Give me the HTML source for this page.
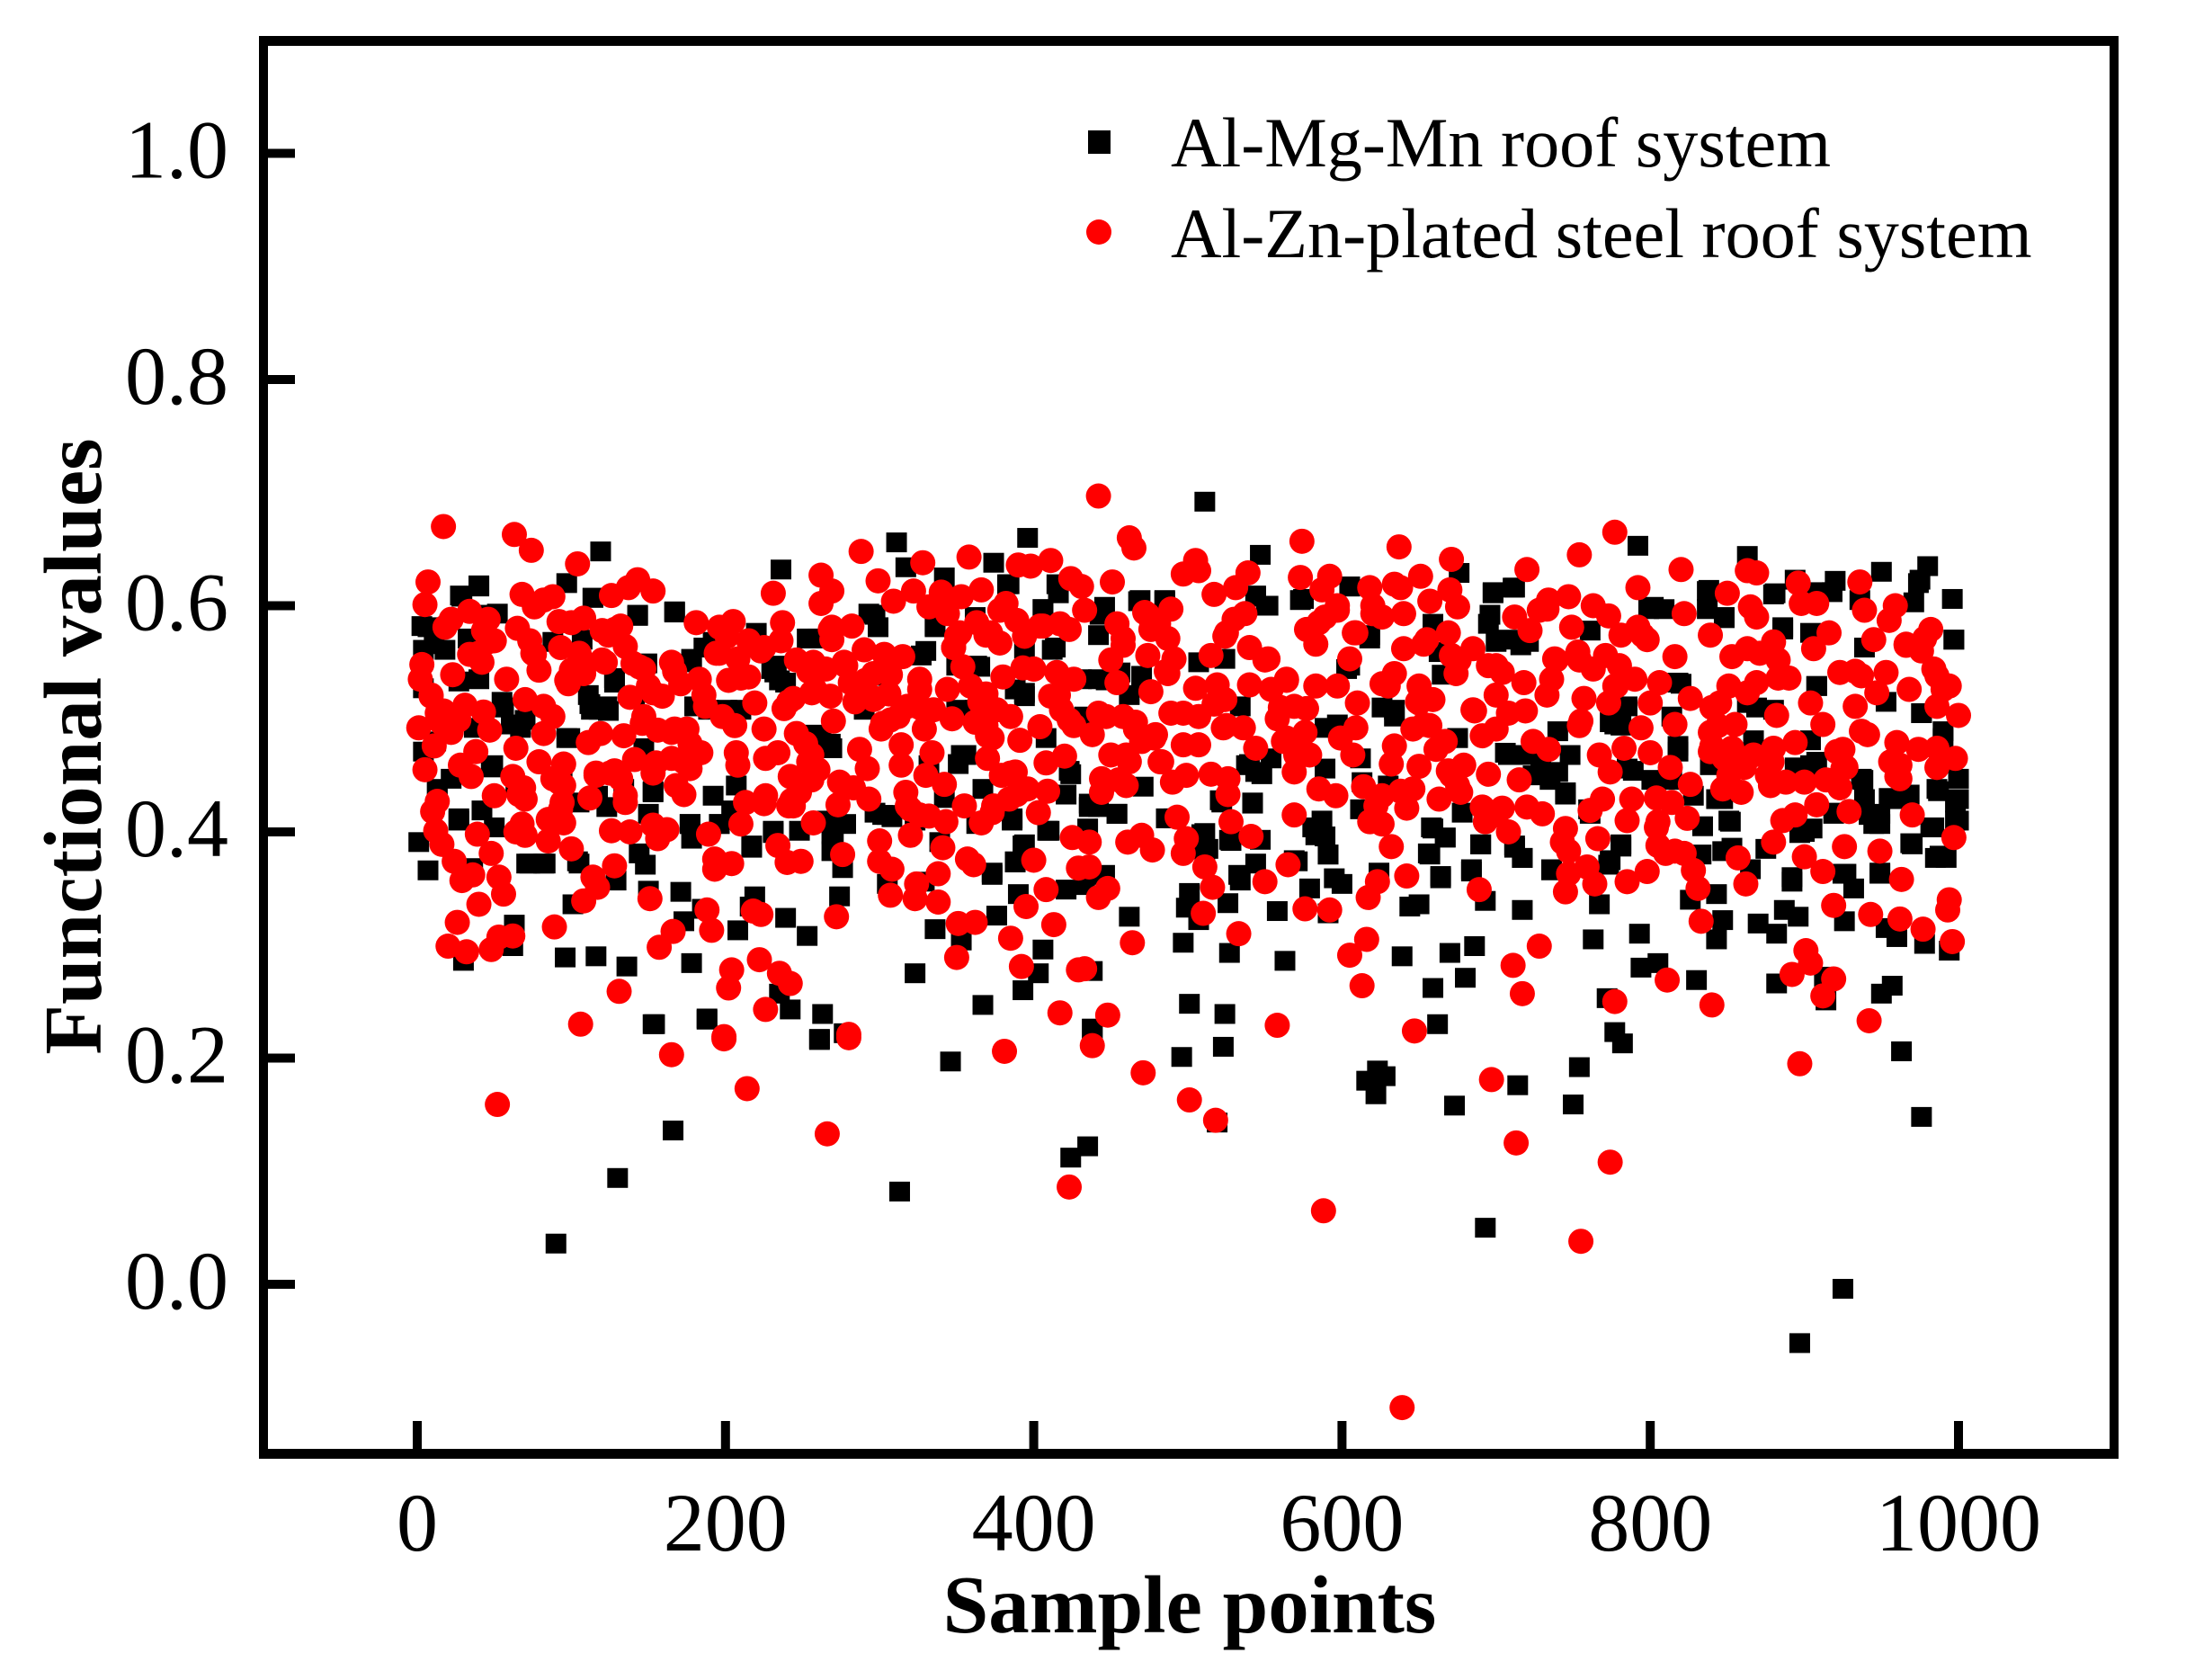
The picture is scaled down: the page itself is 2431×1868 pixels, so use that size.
<!DOCTYPE html>
<html>
<head>
<meta charset="utf-8">
<title>Functional values scatter chart</title>
<style>
html,body{margin:0;padding:0;background:#fff;width:2431px;height:1868px;overflow:hidden}
svg{display:block}
text{font-family:"Liberation Serif",serif;fill:#000}
</style>
</head>
<body>
<svg id="chart" xmlns="http://www.w3.org/2000/svg" width="2431" height="1868" viewBox="0 0 2431 1868">
<rect x="0" y="0" width="2431" height="1868" fill="#fff"/>
<g id="series"></g>
<g id="axes"></g>
<text x="1323" y="1815" font-size="91" font-weight="bold" text-anchor="middle">Sample points</text>
<text transform="translate(112 830) rotate(-90)" font-size="91" font-weight="bold" text-anchor="middle">Functional values</text>
<g>
<rect x="1210" y="145" width="25" height="26" fill="#000"/>
<text x="1302" y="185" font-size="78.2">Al-Mg-Mn roof system</text>
<circle cx="1222" cy="258" r="14" fill="#f00"/>
<text x="1302" y="286" font-size="78.2">Al-Zn-plated steel roof system</text>
</g>
</svg>
<script>
const xTicks=[0,200,400,600,800,1000];
const yTicks=[0.0,0.2,0.4,0.6,0.8,1.0];
const yTickLabels=["0.0","0.2","0.4","0.6","0.8","1.0"];
const blackPoints=[[119,.648],[311,.656],[396,.660],[236,.632],[317,.634],[374,.638],[342,.625],[384,.619],[415,.619],[40,.618],[28,.609],[52,.593],[97,.620],[114,.607],[143,.591],[167,.594],[7,.581],[4,.561],[18,.561],[33,.571],[88,.568],[107,.570],[293,.593],[299,.581],[336,.581],[362,.590],[406,.597],[220,.576],[253,.571],[192,.568],[327,.556],[412,.561],[232,.541],[239,.532],[128,.532],[111,.521],[123,.511],[113,.508],[55,.515],[40,.535],[27,.533],[4,.527],[365,.546],[394,.520],[388,.526],[189,.508],[180,.511],[350,.508],[362,.508],[149,.549],[178,.553],[97,.483],[67,.492],[262,.483],[269,.474],[356,.468],[351,.460],[424,.451],[153,.435],[134,.438],[117,.432],[94,.450],[49,.459],[4,.471],[12,.480],[13,.438],[42,.419],[27,.410],[50,.404],[1,.391],[7,.366],[36,.368],[73,.372],[82,.372],[104,.374],[144,.381],[148,.371],[276,.368],[269,.383],[269,.398],[248,.401],[231,.401],[217,.386],[196,.407],[177,.407],[178,.394],[150,.416],[123,.422],[105,.426],[266,.410],[302,.415],[308,.413],[323,.410],[363,.407],[386,.410],[409,.401],[394,.389],[388,.374],[373,.362],[339,.391],[305,.354],[329,.356],[274,.343],[219,.343],[216,.334],[185,.332],[171,.347],[150,.348],[129,.357],[101,.336],[63,.318],[62,.299],[30,.286],[96,.289],[116,.290],[136,.281],[178,.284],[173,.321],[208,.313],[239,.324],[253,.308],[336,.314],[353,.304],[376,.326],[406,.296],[403,.275],[323,.275],[393,.260],[367,.247],[421,.349],[390,.345],[235,.257],[242,.243],[263,.239],[261,.217],[277,.222],[188,.235],[153,.230],[230,.544],[260,.571],[210,.508],[204,.419],[290,.508],[305,.538],[394,.562],[141,.520],[118,.508],[350,.547],[332,.459],[278,.407],[147,.474],[201,.508],[64,.441],[37,.492],[61,.495],[22,.447],
[547,.645],[511,.692],[792,.653],[863,.644],[676,.629],[950,.630],[980,.635],[975,.623],[996,.606],[920,.622],[894,.623],[880,.610],[838,.614],[698,.612],[712,.616],[605,.617],[575,.606],[544,.609],[551,.600],[469,.605],[485,.605],[446,.599],[442,.574],[802,.599],[848,.590],[695,.584],[708,.570],[761,.578],[886,.581],[997,.570],[618,.571],[716,.565],[663,.559],[507,.550],[524,.553],[442,.535],[431,.535],[456,.541],[470,.538],[818,.532],[908,.529],[605,.547],[785,.511],[863,.514],[814,.502],[777,.495],[976,.505],[990,.483],[880,.508],[634,.508],[589,.492],[597,.495],[534,.511],[433,.502],[740,.489],[675,.483],[708,.468],[740,.453],[724,.450],[745,.435],[785,.456],[818,.471],[839,.459],[904,.459],[937,.447],[1000,.447],[986,.438],[1000,.429],[962,.429],[949,.416],[939,.429],[919,.416],[843,.429],[761,.416],[622,.429],[589,.456],[544,.453],[538,.459],[554,.465],[612,.465],[442,.422],[454,.416],[436,.422],[542,.426],[522,.426],[491,.412],[509,.398],[587,.410],[583,.397],[591,.380],[544,.372],[571,.374],[511,.383],[528,.392],[659,.403],[667,.395],[657,.380],[690,.389],[712,.386],[717,.377],[781,.389],[773,.371],[736,.366],[684,.365],[664,.359],[624,.362],[579,.350],[600,.354],[591,.328],[534,.357],[501,.346],[499,.333],[526,.337],[507,.322],[446,.362],[433,.353],[462,.325],[558,.330],[644,.334],[650,.336],[693,.339],[717,.331],[767,.336],[826,.340],[843,.345],[853,.386],[851,.410],[892,.356],[887,.331],[896,.325],[847,.322],[870,.319],[882,.310],[843,.305],[927,.363],[932,.350],[949,.363],[926,.321],[953,.315],[960,.307],[978,.301],[994,.295],[985,.377],[992,.377],[970,.389],[945,.407],[984,.404],[998,.410],[900,.400],[793,.310],[763,.305],[497,.302],[527,.293],[563,.286],[639,.290],[670,.293],[686,.299],[438,.277],[659,.262],[680,.271],[794,.280],[805,.284],[830,.269],[882,.266],[913,.272],[914,.251],[957,.264],[950,.257],[772,.253],[501,.248],[524,.239],[438,.226],[662,.230],[777,.223],[782,.213],[963,.206],
[90,.036],[130,.094],[166,.136],[313,.082],[424,.112],[435,.122],[693,.050],[897,-.052],[925,-.004],[976,.148],[519,.143],[523,.210],[496,.201],[616,.180],[623,.189],[628,.184],[622,.168],[673,.158],[714,.176],[750,.159],[754,.192],[346,.197],[438,.226],[261,.216],[154,.230],[188,.234],
[112,.513],[124,.507],[128,.536],[235,.534],[233,.547],[186,.563],[178,.550],[99,.483],[70,.499],[56,.510],[48,.457],[11,.566],[3,.582],[44,.592],[13,.436],[27,.412],[177,.407],[196,.407],[217,.388],[83,.372],[71,.372],[105,.372],[192,.432],[207,.441],[167,.595],[143,.592],[114,.607],[40,.617],[29,.608],[153,.436],[231,.399],
[297,.592],[330,.560],[254,.571],[336,.582],[363,.547],[353,.468],[394,.523],[408,.483],[423,.454],[367,.438],[342,.430],[270,.399],[297,.417],[305,.415],[268,.478],[258,.486],[414,.563],[406,.597],[383,.619],[416,.611],[443,.592],[447,.534],[462,.521],[468,.604],[485,.604],[436,.425],[454,.416],[435,.403],[386,.412],[410,.401],[393,.388],[388,.373],[373,.364],[471,.440],[421,.433],[437,.424],[486,.412],
[544,.608],[552,.600],[573,.605],[605,.617],[698,.611],[696,.592],[700,.568],[711,.616],[721,.568],[618,.574],[659,.584],[626,.510],[634,.502],[603,.544],[665,.539],[675,.483],[706,.470],[719,.468],[735,.446],[745,.433],[729,.462],[748,.468],[540,.460],[548,.451],[521,.428],[542,.425],[527,.393],[547,.393],[511,.399],[513,.385],[581,.404],[589,.396],[591,.380],[569,.375],[612,.420],[613,.444],[630,.441],[658,.404],[667,.395],[656,.381],[690,.389],[712,.388],[717,.377],[736,.367],[664,.361],[684,.367],[678,.417],[760,.420],[595,.359],[624,.364],[533,.362],
[809,.597],[799,.597],[837,.613],[837,.597],[848,.589],[881,.611],[886,.579],[904,.576],[918,.612],[908,.612],[936,.605],[974,.620],[971,.603],[997,.570],[939,.563],[820,.531],[908,.529],[869,.510],[774,.497],[781,.494],[818,.476],[867,.481],[904,.481],[990,.489],[789,.454],[801,.446],[814,.446],[894,.457],[938,.446],[955,.430],[968,.433],[987,.436],[998,.426],[1000,.410],[976,.505],[953,.515],[908,.462],[828,.432],[847,.429],[834,.405],[852,.409],[897,.399],[905,.403],[920,.417],[942,.415],[949,.407],[969,.390],[982,.404],[988,.379],[847,.383],[833,.380],[875,.385],[781,.387],[774,.375],[865,.367],[925,.363],[949,.364],[892,.360]];
const redPoints=[[17,.670],[63,.663],[74,.649],[104,.637],[7,.621],[5,.601],[288,.648],[231,.611],[262,.627],[269,.613],[262,.602],[299,.622],[328,.638],[358,.643],[390,.636],[398,.635],[411,.640],[424,.624],[309,.604],[322,.613],[340,.612],[353,.608],[366,.614],[332,.599],[344,.593],[382,.602],[378,.596],[389,.587],[394,.573],[406,.582],[417,.584],[363,.585],[350,.573],[372,.576],[378,.567],[348,.563],[354,.546],[68,.610],[76,.599],[88,.608],[82,.605],[18,.581],[22,.588],[34,.595],[46,.588],[43,.578],[50,.569],[34,.557],[42,.550],[65,.580],[73,.569],[76,.557],[79,.543],[58,.535],[23,.539],[3,.548],[2,.535],[9,.520],[92,.586],[100,.585],[108,.589],[93,.563],[105,.558],[100,.543],[98,.531],[108,.540],[122,.550],[120,.578],[132,.582],[135,.564],[126,.609],[137,.616],[143,.623],[153,.613],[181,.585],[196,.581],[205,.586],[201,.573],[237,.585],[236,.569],[215,.569],[225,.563],[194,.558],[208,.553],[202,.534],[215,.537],[246,.552],[257,.550],[265,.544],[277,.550],[290,.561],[269,.581],[282,.582],[269,.570],[303,.557],[315,.555],[305,.544],[296,.540],[281,.532],[326,.535],[344,.526],[359,.529],[369,.522],[380,.537],[393,.545],[400,.544],[415,.541],[426,.535],[411,.520],[144,.546],[140,.549],[165,.550],[183,.535],[171,.531],[150,.529],[138,.519],[159,.520],[187,.511],[198,.502],[219,.514],[238,.509],[244,.518],[256,.523],[268,.520],[284,.515],[296,.517],[306,.522],[318,.511],[302,.496],[312,.502],[329,.491],[335,.508],[347,.500],[362,.497],[370,.485],[376,.508],[385,.502],[404,.493],[391,.481],[418,.508],[426,.494],[270,.498],[70,.517],[82,.511],[88,.502],[82,.487],[1,.492],[13,.505],[16,.496],[31,.512],[43,.506],[47,.490],[22,.488],[11,.476],[5,.455],[38,.471],[28,.459],[35,.449],[64,.474],[79,.462],[95,.460],[62,.449],[69,.439],[70,.429],[50,.432],[13,.427],[10,.418],[12,.401],[39,.398],[16,.389],[24,.374],[29,.357],[36,.362],[53,.360],[56,.345],[48,.381],[64,.400],[70,.397],[85,.392],[100,.385],[85,.411],[95,.408],[94,.426],[92,.444],[88,.447],[111,.479],[119,.487],[134,.485],[146,.496],[156,.490],[165,.488],[175,.491],[184,.470],[177,.456],[165,.465],[155,.461],[141,.464],[153,.452],[116,.450],[125,.452],[132,.447],[135,.432],[112,.430],[168,.441],[173,.433],[135,.426],[126,.401],[138,.400],[153,.406],[162,.402],[156,.394],[189,.398],[193,.376],[193,.367],[204,.372],[210,.407],[213,.426],[226,.432],[207,.470],[208,.459],[226,.465],[234,.470],[246,.487],[256,.468],[260,.455],[242,.449],[248,.435],[244,.423],[257,.408],[274,.444],[273,.424],[283,.439],[293,.429],[287,.473],[292,.456],[314,.477],[314,.459],[334,.470],[330,.450],[342,.442],[317,.435],[320,.420],[332,.414],[343,.409],[355,.423],[366,.408],[374,.423],[384,.429],[388,.453],[379,.450],[396,.438],[409,.436],[403,.417],[370,.465],[408,.461],[420,.467],[425,.395],[320,.397],[300,.392],[300,.374],[308,.367],[341,.386],[357,.376],[361,.371],[400,.375],[408,.349],[395,.334],[413,.318],[385,.306],[392,.281],[350,.289],[351,.319],[362,.320],[338,.363],[324,.354],[307,.344],[323,.341],[338,.338],[276,.380],[234,.388],[240,.373],[249,.374],[272,.325],[218,.330],[223,.327],[188,.331],[191,.313],[166,.312],[157,.298],[151,.341],[117,.351],[128,.370],[114,.360],[108,.339],[89,.316],[62,.308],[53,.307],[48,.296],[32,.294],[20,.299],[26,.320],[40,.336],[131,.259],[106,.230],[204,.278],[202,.262],[222,.287],[235,.275],[242,.266],[226,.243],[199,.219],[280,.221],[417,.240],[429,.278],[429,.368],
[442,.697],[462,.660],[465,.651],[574,.657],[637,.652],[671,.641],[777,.665],[754,.645],[720,.632],[820,.632],[505,.640],[497,.628],[507,.631],[539,.629],[573,.625],[592,.626],[618,.616],[634,.619],[651,.626],[792,.616],[863,.631],[869,.629],[896,.620],[936,.621],[850,.611],[451,.621],[517,.610],[531,.616],[587,.614],[657,.604],[670,.614],[675,.599],[822,.593],[939,.596],[898,.602],[908,.602],[865,.599],[869,.590],[959,.600],[955,.587],[431,.617],[433,.596],[454,.584],[472,.594],[489,.597],[481,.584],[530,.588],[537,.593],[597,.596],[585,.585],[577,.579],[620,.593],[640,.593],[712,.590],[734,.605],[747,.608],[728,.596],[763,.600],[773,.591],[749,.581],[722,.578],[792,.581],[798,.570],[982,.579],[978,.571],[966,.565],[916,.576],[945,.570],[880,.568],[863,.562],[839,.574],[816,.555],[669,.576],[655,.570],[640,.562],[685,.562],[671,.556],[609,.576],[605,.553],[524,.573],[487,.571],[474,.556],[450,.552],[458,.565],[515,.556],[491,.553],[487,.540],[454,.532],[476,.524],[505,.527],[519,.530],[540,.530],[552,.553],[564,.535],[583,.529],[597,.529],[610,.514],[630,.529],[634,.540],[650,.529],[650,.514],[659,.517],[674,.540],[695,.547],[704,.541],[718,.532],[736,.535],[738,.553],[753,.559],[763,.544],[771,.556],[790,.535],[777,.529],[806,.532],[800,.514],[826,.518],[851,.529],[863,.523],[890,.536],[869,.532],[906,.562],[923,.541],[937,.538],[953,.541],[968,.526],[947,.523],[994,.529],[986,.538],[986,.511],[1000,.503],[933,.511],[904,.514],[882,.503],[912,.495],[941,.486],[442,.505],[458,.502],[466,.497],[479,.486],[438,.486],[489,.505],[507,.502],[524,.517],[536,.492],[523,.492],[569,.511],[558,.500],[577,.509],[609,.492],[599,.483],[653,.495],[646,.491],[685,.508],[708,.505],[691,.485],[667,.480],[734,.473],[724,.480],[755,.498],[757,.518],[773,.514],[794,.492],[816,.495],[783,.474],[800,.470],[845,.514],[839,.488],[855,.495],[894,.479],[880,.474],[853,.474],[839,.471],[867,.468],[921,.471],[960,.479],[974,.473],[986,.474],[998,.465],[925,.456],[962,.459],[450,.468],[470,.480],[462,.462],[483,.462],[497,.477],[507,.477],[544,.474],[562,.480],[576,.488],[579,.468],[569,.453],[607,.468],[634,.476],[632,.460],[650,.458],[695,.451],[679,.459],[671,.450],[767,.468],[774,.453],[813,.457],[851,.450],[861,.457],[876,.450],[888,.444],[900,.444],[923,.439],[962,.447],[986,.457],[444,.447],[444,.435],[460,.441],[490,.444],[499,.450],[515,.451],[526,.447],[526,.433],[585,.438],[596,.432],[614,.440],[626,.432],[638,.436],[646,.438],[663,.429],[677,.435],[715,.446],[826,.442],[847,.438],[859,.435],[878,.441],[493,.413],[528,.409],[569,.415],[618,.409],[626,.407],[642,.421],[691,.422],[704,.421],[720,.422],[730,.416],[761,.419],[769,.429],[785,.410],[788,.429],[804,.430],[814,.426],[824,.412],[886,.410],[894,.415],[908,.424],[929,.418],[970,.415],[693,.409],[708,.400],[745,.403],[743,.391],[747,.383],[766,.394],[804,.404],[810,.381],[822,.381],[880,.391],[997,.395],[926,.387],[949,.383],[900,.378],[912,.365],[857,.377],[436,.391],[461,.391],[470,.397],[477,.384],[499,.394],[497,.381],[541,.396],[632,.387],[511,.369],[516,.351],[436,.369],[442,.342],[448,.350],[550,.356],[565,.371],[576,.332],[592,.331],[617,.342],[623,.356],[642,.361],[689,.349],[747,.363],[759,.369],[745,.347],[764,.354],[785,.356],[798,.365],[828,.366],[831,.350],[862,.354],[963,.358],[919,.335],[943,.327],[962,.323],[977,.314],[994,.340],[993,.331],[996,.303],[833,.321],[510,.328],[533,.310],[464,.302],[616,.305],[605,.291],[613,.264],[728,.299],[711,.282],[717,.257],[811,.269],[777,.250],[840,.247],[901,.295],[904,.284],[892,.274],[919,.270],[912,.255],[433,.279],[448,.238],[558,.229],[647,.224],[438,.211],[942,.233],
[52,.159],[165,.203],[199,.217],[214,.173],[266,.133],[280,.218],[381,.206],[471,.187],[423,.086],[501,.163],[518,.145],[588,.065],[639,-.109],[697,.181],[713,.125],[755,.038],[774,.108],[897,.195],
[17,.507],[27,.499],[21,.491],[9,.521],[40,.558],[46,.568],[75,.558],[97,.534],[108,.550],[120,.552],[128,.579],[147,.544],[153,.523],[147,.502],[167,.491],[177,.478],[173,.462],[186,.521],[167,.542],[206,.494],[225,.491],[210,.536],[196,.558],[223,.560],[93,.420],[95,.441],[116,.452],[128,.454],[66,.433],[68,.407],[225,.425],[241,.423],[241,.515],[124,.574],[243,.428],
[254,.462],[256,.446],[252,.478],[268,.579],[278,.547],[291,.534],[307,.539],[297,.518],[258,.526],[254,.542],[326,.526],[326,.510],[307,.499],[301,.491],[365,.515],[369,.494],[373,.483],[340,.605],[352,.576],[348,.563],[369,.574],[404,.582],[423,.579],[400,.544],[416,.521],[423,.499],[447,.502],[466,.491],[478,.483],[460,.468],[482,.462],[455,.446],[385,.452],[389,.433],[373,.417],[326,.415],[497,.505],[486,.542],[458,.571],[476,.579],[474,.592],[318,.423],
[550,.552],[554,.526],[564,.534],[560,.510],[540,.563],[525,.576],[583,.566],[589,.590],[597,.600],[620,.600],[608,.576],[525,.494],[517,.513],[570,.468],[575,.470],[564,.483],[626,.531],[649,.515],[657,.494],[661,.473],[669,.454],[675,.441],[700,.521],[700,.547],[686,.507],[700,.491],[719,.507],[733,.521],[754,.494],[739,.552],[754,.552],[733,.597],[676,.552],[653,.566],[622,.423],[700,.415],[626,.590],[638,.616],
[781,.574],[795,.574],[780,.547],[778,.529],[871,.558],[883,.552],[883,.536],[840,.510],[844,.494],[840,.476],[848,.465],[879,.462],[925,.473],[927,.457],[937,.489],[933,.542],[976,.560],[984,.544],[990,.526],[956,.462],[960,.449],[805,.409],[805,.388],[816,.383],[914,.446],[853,.555],[966,.566]];

function xScale(v){return 464+v*1.714;}
function yScale(v){return 1428-v*1257.5;}

const NS="http://www.w3.org/2000/svg";
const seriesGroup=document.getElementById('series');
const axesGroup=document.getElementById('axes');

blackPoints.forEach(function(p){
  const el=document.createElementNS(NS,'rect');
  
  
  el.setAttribute('x',xScale(p[0])-11.5);
  el.setAttribute('y',yScale(p[1])-11);
  el.setAttribute('width',23);
  el.setAttribute('height',22);
  el.setAttribute('fill','#000');
  seriesGroup.appendChild(el);
});
redPoints.forEach(function(p){
  const el=document.createElementNS(NS,'circle');
  
  
  el.setAttribute('cx',xScale(p[0]));
  el.setAttribute('cy',yScale(p[1]));
  el.setAttribute('r',14);
  el.setAttribute('fill','#f00');
  seriesGroup.appendChild(el);
});

const frameRects=[['axis-left',288,40,10,1582],['axis-bottom',288,1611,2068,11],['axis-top',288,40,2068,11],['axis-right',2346,40,10,1582]];
frameRects.forEach(function(r){
  const el=document.createElementNS(NS,'rect');
  
  
  el.setAttribute('x',r[1]);
  el.setAttribute('y',r[2]);
  el.setAttribute('width',r[3]);
  el.setAttribute('height',r[4]);
  el.setAttribute('fill','#000');
  axesGroup.appendChild(el);
});
xTicks.forEach(function(v){
  const t=document.createElementNS(NS,'rect');
  
  
  t.setAttribute('x',xScale(v)-5);
  t.setAttribute('y',1580);
  t.setAttribute('width',10);
  t.setAttribute('height',31);
  t.setAttribute('fill','#000');
  axesGroup.appendChild(t);
  const l=document.createElementNS(NS,'text');
  
  
  l.setAttribute('x',xScale(v));
  l.setAttribute('y',1724);
  l.setAttribute('font-size',92);
  l.setAttribute('text-anchor','middle');
  l.textContent=String(v);
  axesGroup.appendChild(l);
});
yTicks.forEach(function(v,i){
  const t=document.createElementNS(NS,'rect');
  
  
  t.setAttribute('x',298);
  t.setAttribute('y',yScale(v)-5);
  t.setAttribute('width',30);
  t.setAttribute('height',10);
  t.setAttribute('fill','#000');
  axesGroup.appendChild(t);
  const l=document.createElementNS(NS,'text');
  
  
  l.setAttribute('x',254);
  l.setAttribute('y',yScale(v)+27);
  l.setAttribute('font-size',92);
  l.setAttribute('text-anchor','end');
  l.textContent=yTickLabels[i];
  axesGroup.appendChild(l);
});
</script>
</body>
</html>
